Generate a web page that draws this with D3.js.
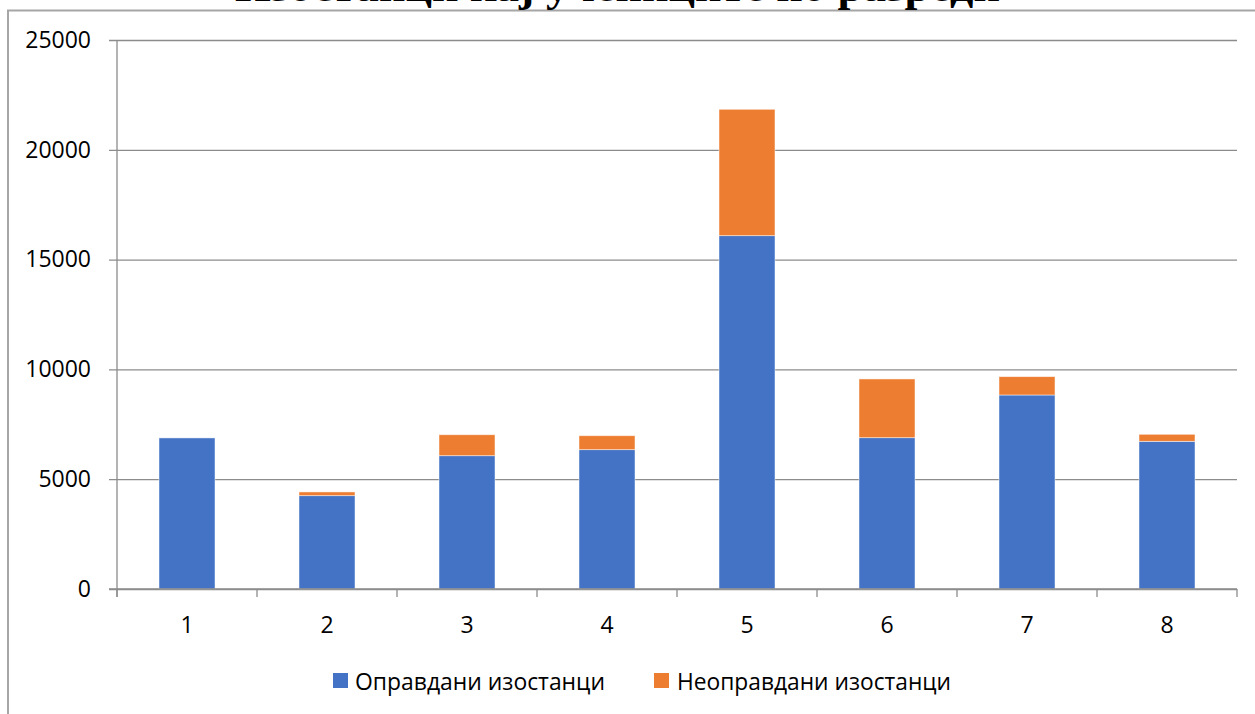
<!DOCTYPE html>
<html>
<head>
<meta charset="utf-8">
<script src="https://cdn.jsdelivr.net/npm/d3@7"></script>
<style>
  html, body { margin: 0; padding: 0; background: #fff; }
  svg { display: block; }
</style>
</head>
<body>
<svg id="chart" width="1255" height="714"></svg>
<script>
const titleText = "Изостанци кај учениците по разреди";
const categories = ["1", "2", "3", "4", "5", "6", "7", "8"];
const justified = [6880, 4250, 6070, 6345, 16090, 6890, 8835, 6725];
const unjustified = [0, 170, 955, 635, 5755, 2675, 835, 320];
const seriesNames = ["Оправдани изостанци", "Неоправдани изостанци"];
const yTicks = [0, 5000, 10000, 15000, 20000, 25000];

const colors = ["#4472C4", "#ED7D31"];
const svg = d3.select("#chart");

// outer frame (extends past viewport on right/bottom)
svg.append("rect")
  .attr("x", 8).attr("y", 10.5)
  .attr("width", 1400).attr("height", 900)
  .attr("fill", "none").attr("stroke", "#a6a6a6").attr("stroke-width", 2);

// title, clipped at the top edge as in the reference
svg.append("text")
  .attr("x", 235).attr("y", 1)
  .attr("font-family", "'Liberation Serif', 'Times New Roman', serif")
  .attr("font-weight", "bold")
  .attr("font-size", 40)
  .attr("textLength", 765)
  .attr("lengthAdjust", "spacingAndGlyphs")
  .attr("fill", "#000")
  .text(titleText);

const plotLeft = 117, plotRight = 1237, plotTop = 40, plotBottom = 589;
const x = d3.scaleBand().domain(categories).range([plotLeft, plotRight]).paddingInner(0.6).paddingOuter(0.3);
const y = d3.scaleLinear().domain([0, 25000]).range([plotBottom, plotTop]);
const gridColor = "#8c8c8c";
const font = "'Open Sans', 'Noto Sans', sans-serif";

// gridlines + y ticks
const yAxis = d3.axisLeft(y).tickValues(yTicks).tickSize(-(plotRight - plotLeft)).tickSizeOuter(0).tickFormat(d => d).tickPadding(26);
const gy = svg.append("g").attr("transform", `translate(${plotLeft},0)`).call(yAxis);
gy.select(".domain").remove();
gy.selectAll(".tick line").attr("stroke", gridColor).attr("stroke-width", 1.3).attr("x1", -8);
gy.selectAll(".tick text").attr("font-family", font).attr("font-size", 23).attr("fill", "#000");

// stacked data
const data = categories.map((c, i) => ({ cat: c, a: justified[i], b: unjustified[i] }));
const stack = d3.stack().keys(["a", "b"]);
const layers = stack(data);

svg.append("g").selectAll("g").data(layers).join("g")
  .attr("fill", (d, i) => colors[i])
  .selectAll("rect").data(d => d.filter(p => p[1] - p[0] > 0)).join("rect")
  .attr("x", d => x(d.data.cat))
  .attr("width", x.bandwidth())
  .attr("y", d => y(d[1]))
  .attr("height", d => y(d[0]) - y(d[1]))
  .attr("stroke", "#ffffff").attr("stroke-opacity", 0.6).attr("stroke-width", 0.8);

// y axis line
svg.append("line")
  .attr("x1", plotLeft).attr("x2", plotLeft).attr("y1", plotTop).attr("y2", plotBottom + 8)
  .attr("stroke", gridColor).attr("stroke-width", 1.3);

// x axis baseline and ticks
svg.append("line")
  .attr("x1", plotLeft - 8).attr("x2", plotRight).attr("y1", plotBottom).attr("y2", plotBottom)
  .attr("stroke", gridColor).attr("stroke-width", 1.3);
const step = x.step();
const boundaries = d3.range(categories.length + 1).map(i => plotLeft + i * step);
svg.append("g").selectAll("line").data(boundaries).join("line")
  .attr("x1", d => d).attr("x2", d => d)
  .attr("y1", plotBottom).attr("y2", plotBottom + 8)
  .attr("stroke", gridColor).attr("stroke-width", 1.3);

// x labels
svg.append("g").selectAll("text").data(categories).join("text")
  .attr("x", d => x(d) + x.bandwidth() / 2)
  .attr("y", 624)
  .attr("text-anchor", "middle")
  .attr("dominant-baseline", "central")
  .attr("font-family", font).attr("font-size", 23).attr("fill", "#000")
  .text(d => d);

// legend
const legendItems = [
  { name: seriesNames[0], color: colors[0], sx: 333, tx: 355, len: 250 },
  { name: seriesNames[1], color: colors[1], sx: 654, tx: 677, len: 274 }
];
const lg = svg.append("g");
legendItems.forEach(it => {
  lg.append("rect").attr("x", it.sx).attr("y", 673).attr("width", 15).attr("height", 15).attr("fill", it.color);
  lg.append("text").attr("x", it.tx).attr("y", 680)
    .attr("dominant-baseline", "central")
    .attr("font-family", font).attr("font-size", 24.5).attr("fill", "#000")
    .attr("textLength", it.len).attr("lengthAdjust", "spacingAndGlyphs")
    .text(it.name);
});
</script>
</body>
</html>
